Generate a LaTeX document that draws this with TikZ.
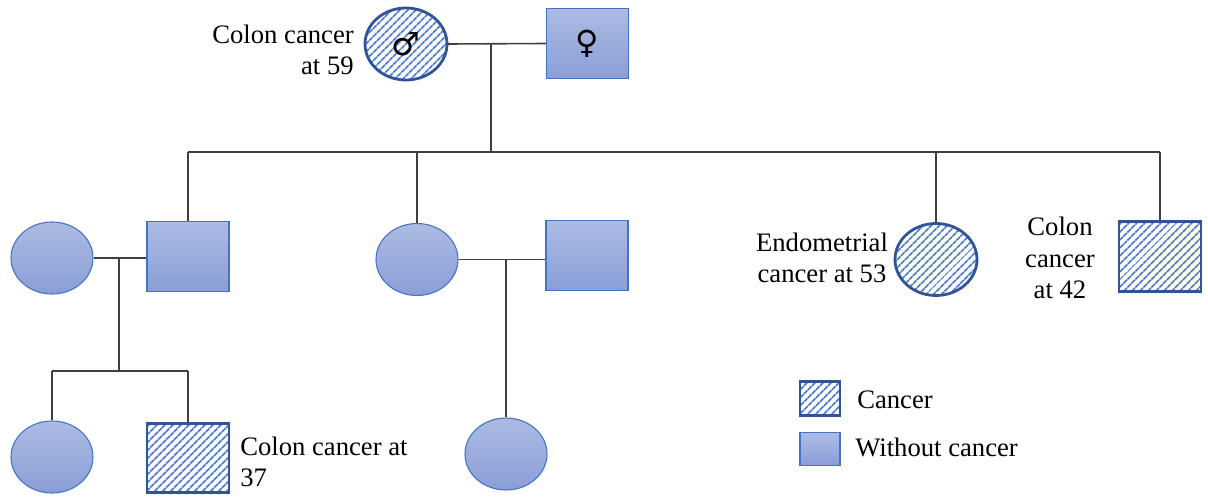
\documentclass[tikz,border=0pt]{standalone}
\usepackage{fontspec}
\setmainfont{Liberation Serif}
\newfontfamily\symfont{DejaVu Sans}
\usetikzlibrary{shapes.geometric,patterns.meta}
\definecolor{fillA}{HTML}{ADBBE3}
\definecolor{fillB}{HTML}{8A9ED7}
\definecolor{lineBlue}{HTML}{4472C4}
\definecolor{darkBlue}{HTML}{2F5597}
\definecolor{hatchBlue}{HTML}{5580D0}
\definecolor{conn}{HTML}{404040}
\tikzset{
  plain/.style={draw=lineBlue, line width=0.8pt, top color=fillA, bottom color=fillB, inner sep=0pt},
  hatched/.style={draw=darkBlue, line width=2.1pt, inner sep=0pt, pattern={Lines[angle=45,distance=4pt,line width=1.4pt]}, pattern color=hatchBlue},
  fem/.style={ellipse, minimum width=61.5pt, minimum height=54pt},
  mal/.style={rectangle, minimum width=61.5pt, minimum height=52pt},
  legbox/.style={rectangle, minimum width=30pt, minimum height=25pt},
  link/.style={draw=conn, line width=1.2pt},
  lbl/.style={font=\fontsize{20}{23.5}\selectfont, inner sep=0pt}
}
\begin{document}
\begin{tikzpicture}[x=0.75pt,y=-0.75pt]
\useasboundingbox (0,0) rectangle (1208,499);
% generation 1
\node[hatched,fem] (g1f) at (406,44) {};
\node[plain,mal] (g1m) at (587.5,43.5) {};
\node[font=\symfont\fontsize{24}{24}\selectfont, inner sep=0pt] (sym1) at (406,44) {♂};
\node[font=\symfont\fontsize{24}{24}\selectfont, inner sep=0pt] (sym2) at (587.5,43.5) {♀};
\node[lbl, align=right, anchor=east] (t1) at (354,50) {Colon cancer\\at 59};
% generation 2
\node[plain,fem] (a1) at (52,258) {};
\node[plain,mal] (a2) at (188,256.5) {};
\node[plain,fem] (b1) at (417,259.5) {};
\node[plain,mal] (b2) at (587,255.5) {};
\node[hatched,fem] (c1) at (936,259.5) {};
\node[hatched,mal] (d1) at (1160,256.5) {};
\node[lbl, align=center] (t2) at (822,258) {Endometrial\\cancer at 53};
\node[lbl, align=center] (t3) at (1060,258) {Colon\\cancer\\at 42};
% generation 3
\node[plain,fem] (e1) at (52,457) {};
\node[hatched,mal] (e2) at (188,458) {};
\node[plain,fem] (f1) at (506,454) {};
\node[lbl, align=left, anchor=west] (t4) at (240,462) {Colon cancer at\\37};
% legend
\node[hatched,legbox] (L1) at (820,398.5) {};
\node[plain,legbox] (L2) at (820,449) {};
\node[lbl, anchor=west] (t5) at (857,400) {Cancer};
\node[lbl, anchor=west] (t6) at (855,447) {Without cancer};
% connectors
\coordinate (m1) at (491,44);
\coordinate (s1) at (491,152);
\coordinate (s1L) at (188,152);
\coordinate (s1R) at (1160,152);
\draw[link] (g1f.east) -- (g1m.west);
\draw[link] (m1) -- (s1);
\draw[link] (s1L) -- (s1R);
\draw[link] (s1L) -- (a2.north);
\draw[link] (b1.north) -- (b1.north |- s1L);
\draw[link] (c1.north) -- (c1.north |- s1L);
\draw[link] (s1R) -- (d1.north);
\coordinate (m2) at (119,258);
\coordinate (s2) at (119,371);
\coordinate (s2L) at (52,371);
\coordinate (s2R) at (188,371);
\draw[link] (a1.east) -- (a2.west |- a1.east);
\draw[link] (m2) -- (s2);
\draw[link] (s2L) -- (s2R);
\draw[link] (s2L) -- (e1.north);
\draw[link] (s2R) -- (e2.north);
\coordinate (m3) at (506,259.5);
\draw[link] (b1.east) -- (b2.west |- b1.east);
\draw[link] (m3) -- (f1.north);
\end{tikzpicture}
\end{document}
